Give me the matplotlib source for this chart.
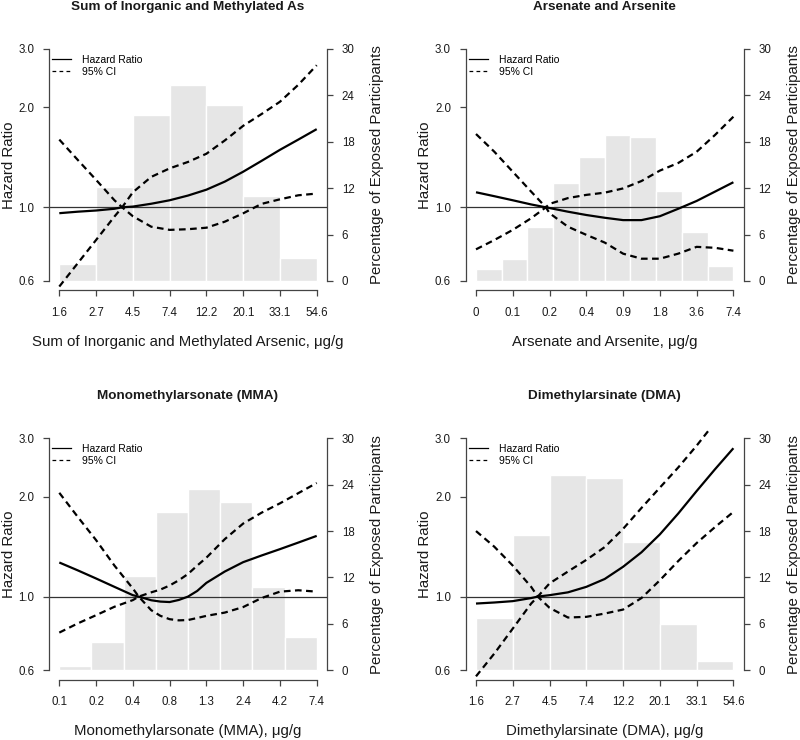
import numpy as np
import matplotlib.pyplot as plt
from matplotlib.lines import Line2D
from matplotlib.ticker import NullLocator

plt.rcParams['font.family'] = ['Liberation Sans', 'DejaVu Sans']

titles = ['Sum of Inorganic and Methylated As', 'Arsenate and Arsenite',
          'Monomethylarsonate (MMA)', 'Dimethylarsinate (DMA)']
xlabels = ['Sum of Inorganic and Methylated Arsenic, \u03bcg/g',
           'Arsenate and Arsenite, \u03bcg/g',
           'Monomethylarsonate (MMA), \u03bcg/g',
           'Dimethylarsinate (DMA), \u03bcg/g']

# x tick labels (equally spaced on the log scale)
xt_sum = ['1.6', '2.7', '4.5', '7.4', '12.2', '20.1', '33.1', '54.6']
xt_ias = ['0', '0.1', '0.2', '0.4', '0.9', '1.8', '3.6', '7.4']
xt_mma = ['0.1', '0.2', '0.4', '0.8', '1.3', '2.4', '4.2', '7.4']
xt_dma = ['1.6', '2.7', '4.5', '7.4', '12.2', '20.1', '33.1', '54.6']

# histogram: percentage of exposed participants per bin
pct_sum = [2.2, 12.2, 21.5, 25.4, 22.8, 11.0, 3.0]
pct_ias = [1.6, 2.9, 7.0, 12.7, 16.0, 18.9, 18.6, 11.6, 6.3, 1.9]
pct_mma = [0.5, 3.6, 12.2, 20.5, 23.5, 21.8, 10.8, 4.3]
pct_dma = [6.7, 17.5, 25.2, 24.9, 16.6, 6.0, 1.2]

# spline curves, x in tick units along the log axis
x_sum = [0, 0.5, 1, 1.5, 1.71, 2, 2.5, 3, 3.5, 4, 4.5, 5, 5.5, 6, 6.5, 7]
hr_sum = [0.96, 0.97, 0.978, 0.99, 1.0, 1.005, 1.025, 1.05, 1.085, 1.13, 1.195, 1.28, 1.38, 1.49, 1.60, 1.72]
cia_sum = [1.60, 1.39, 1.21, 1.05, 1.0, 0.94, 0.874, 0.855, 0.859, 0.868, 0.905, 0.959, 1.024, 1.057, 1.087, 1.10]
cib_sum = [0.577, 0.678, 0.797, 0.938, 1.0, 1.11, 1.235, 1.31, 1.37, 1.45, 1.59, 1.76, 1.91, 2.08, 2.34, 2.68]

x_ias = [0, 0.5, 1, 1.5, 1.9, 2, 2.5, 3, 3.5, 4, 4.5, 5, 5.5, 6, 6.5, 7]
hr_ias = [1.11, 1.08, 1.05, 1.02, 1.0, 0.995, 0.97, 0.948, 0.93, 0.915, 0.915, 0.94, 0.99, 1.045, 1.115, 1.19]
cia_ias = [1.663, 1.47, 1.28, 1.115, 1.0, 0.96, 0.874, 0.826, 0.783, 0.725, 0.70, 0.70, 0.725, 0.76, 0.755, 0.74]
cib_ias = [0.747, 0.797, 0.855, 0.927, 1.0, 1.024, 1.066, 1.09, 1.107, 1.14, 1.20, 1.29, 1.36, 1.47, 1.652, 1.875]

x_mma = [0, 0.5, 1, 1.5, 2, 2.16, 2.5, 2.75, 3, 3.25, 3.5, 3.75, 4, 4.5, 5, 5.5, 6, 6.5, 7]
hr_mma = [1.267, 1.2, 1.134, 1.07, 1.01, 1.0, 0.975, 0.966, 0.963, 0.977, 1.0, 1.04, 1.10, 1.19, 1.27, 1.33, 1.39, 1.455, 1.524]
cia_mma = [2.055, 1.74, 1.48, 1.24, 1.058, 1.0, 0.91, 0.875, 0.855, 0.848, 0.85, 0.862, 0.875, 0.895, 0.93, 0.99, 1.035, 1.045, 1.035]
cib_mma = [0.779, 0.83, 0.879, 0.932, 0.976, 1.0, 1.03, 1.05, 1.08, 1.12, 1.17, 1.24, 1.31, 1.49, 1.66, 1.79, 1.91, 2.05, 2.20]

x_dma = [0, 0.5, 1, 1.5, 1.68, 2, 2.5, 3, 3.5, 4, 4.5, 5, 5.5, 6, 6.5, 7]
hr_dma = [0.953, 0.96, 0.969, 0.99, 1.0, 1.01, 1.03, 1.07, 1.13, 1.23, 1.36, 1.54, 1.78, 2.08, 2.42, 2.80]
cia_dma = [1.576, 1.413, 1.24, 1.07, 1.0, 0.925, 0.865, 0.869, 0.889, 0.914, 0.99, 1.12, 1.28, 1.45, 1.62, 1.80]
cib_dma = [0.575, 0.674, 0.801, 0.953, 1.0, 1.096, 1.19, 1.29, 1.41, 1.60, 1.85, 2.13, 2.45, 2.85, 3.35, 3.9]

hr_ticks = [0.6, 1.0, 2.0, 3.0]
pct_ticks = [0, 6, 12, 18, 24, 30]

AXCOL = '#444444'
TXTCOL = '#1a1a1a'
DASH = (0, (3.0, 2.0))


def draw_panel(left_px, top_px, title, xlabel, xticklabels, pct, x, hr, ci_a, ci_b):

	fig_w, fig_h = 800.0, 740.0
	box_w, box_h = 278.0, 250.5
	ax = fig.add_axes([left_px/fig_w, 1-(top_px+box_h)/fig_h, box_w/fig_w, box_h/fig_h])

	# bars on the percentage axis
	edges = np.linspace(0, 7, len(pct)+1)
	ax.bar(edges[:-1], pct, width=np.diff(edges), align='edge', color='#e6e6e6',
		   edgecolor='white', linewidth=1.0, zorder=1)
	ax.set_xlim(-0.28, 7.28)
	ax.set_ylim(-1.2, 31.2)

	ax2 = ax.twinx()
	ax.yaxis.tick_right()
	ax.yaxis.set_label_position('right')
	ax2.yaxis.tick_left()
	ax2.yaxis.set_label_position('left')

	ax2.set_yscale('log')
	ax2.set_ylim(0.6/5**0.04, 3.0*5**0.04)
	ax2.axhline(1.0, color='#333333', lw=0.9)
	ax2.plot(x, hr, color='black', lw=1.6, solid_capstyle='butt')
	ax2.plot(x, ci_a, color='black', lw=1.6, linestyle=DASH)
	ax2.plot(x, ci_b, color='black', lw=1.6, linestyle=DASH)

	# R-like axes
	for s in ['top', 'left']:
		ax.spines[s].set_visible(False)
	for s in ['top', 'right', 'bottom']:
		ax2.spines[s].set_visible(False)
	ax.spines['right'].set_bounds(0, 30)
	ax.spines['bottom'].set_bounds(0, 7)
	ax2.spines['left'].set_bounds(0.6, 3.0)
	for sp in [ax.spines['right'], ax.spines['bottom'], ax2.spines['left']]:
		sp.set_color(AXCOL)
		sp.set_linewidth(0.9)

	ax.set_xticks(range(8))
	ax.set_xticklabels(xticklabels)
	ax.set_yticks(pct_ticks)
	ax.set_yticklabels([str(v) for v in pct_ticks])
	ax2.set_yticks(hr_ticks)
	ax2.set_yticklabels(['%.1f' % v for v in hr_ticks])
	ax2.yaxis.set_minor_locator(NullLocator())

	ax.tick_params(axis='x', length=4.3, width=0.9, color=AXCOL, pad=7.5, labelsize=8.3, labelcolor=TXTCOL)
	ax.tick_params(axis='y', length=4.3, width=0.9, color=AXCOL, pad=6.3, labelsize=8.3, labelcolor=TXTCOL)
	ax2.tick_params(axis='y', length=4.3, width=0.9, color=AXCOL, pad=6.3, labelsize=8.3, labelcolor=TXTCOL)

	ax.set_xlabel(xlabel, fontsize=10.8, color=TXTCOL)
	ax.xaxis.set_label_coords(0.5, -0.178)
	ax.set_ylabel('Percentage of Exposed Participants', fontsize=10.8, color=TXTCOL)
	ax.yaxis.set_label_coords(1.155, 0.5)
	ax2.set_ylabel('Hazard Ratio', fontsize=10.8, color=TXTCOL)
	ax2.yaxis.set_label_coords(-0.12, 0.5)

	ax.set_title(title, fontsize=9.7, fontweight='bold', color=TXTCOL, pad=21.4)

	handles = [Line2D([], [], color='black', lw=0.9),
			   Line2D([], [], color='black', lw=0.9, linestyle=(0, (3, 2.6)))]
	ax2.legend(handles, ['Hazard Ratio', '95% CI'], loc='upper left', bbox_to_anchor=(0.012, 0.94),
			   frameon=False, fontsize=7.5, handlelength=1.8, handletextpad=1.05,
			   labelspacing=0.2, borderpad=0, borderaxespad=0)

	return ax, ax2


fig = plt.figure(figsize=(8, 7.4), dpi=100)

draw_panel(49, 39.7, titles[0], xlabels[0], xt_sum, pct_sum, x_sum, hr_sum, cia_sum, cib_sum)
draw_panel(465.7, 39.7, titles[1], xlabels[1], xt_ias, pct_ias, x_ias, hr_ias, cia_ias, cib_ias)
draw_panel(49, 429, titles[2], xlabels[2], xt_mma, pct_mma, x_mma, hr_mma, cia_mma, cib_mma)
draw_panel(465.7, 429, titles[3], xlabels[3], xt_dma, pct_dma, x_dma, hr_dma, cia_dma, cib_dma)

plt.savefig('out.png', dpi=100)
